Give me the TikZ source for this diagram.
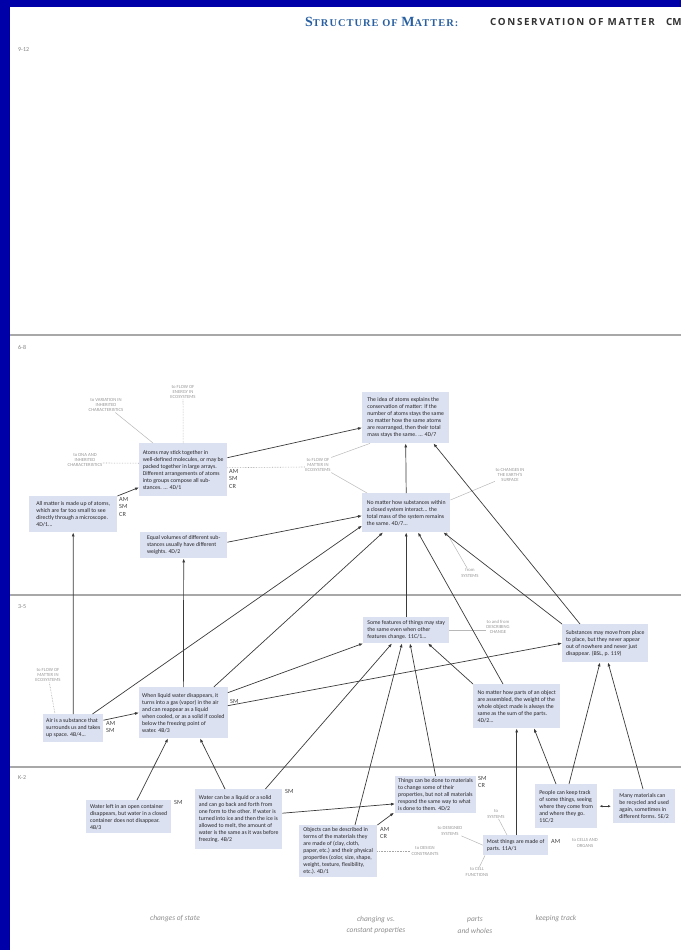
\documentclass[tikz,border=0pt]{standalone}
\usepackage{fontspec}
\setmainfont{Carlito}
\newfontfamily\headserif{Liberation Serif}
\newfontfamily\headsans{Open Sans}
\usetikzlibrary{arrows.meta,calc}

\definecolor{frameblue}{RGB}{0,0,168}
\definecolor{boxfill}{RGB}{220,225,242}
\definecolor{linkgrey}{RGB}{58,58,58}
\definecolor{notegrey}{RGB}{150,150,150}
\definecolor{rulegrey}{RGB}{168,168,168}
\definecolor{titleblue}{RGB}{40,95,160}
\definecolor{titlegrey}{RGB}{50,50,50}

\tikzset{
  bench/.style={fill=boxfill, draw=none, anchor=north west, align=left,
    inner xsep=3pt, inner ysep=2.5pt, font=\fontsize{5.8}{7}\selectfont, text=black!85},
  codes/.style={anchor=north west, align=left, inner sep=0pt,
    font=\fontsize{6.3}{7.4}\selectfont, text=black!75},
  note/.style={align=center, inner sep=0.5pt, font=\fontsize{4.7}{5.3}\selectfont, text=notegrey},
  link/.style={draw=linkgrey, line width=0.7pt, -{Latex[length=4pt,width=3pt]}},
  notelink/.style={draw=black!28, line width=0.5pt},
  dotlink/.style={draw=black!35, line width=0.6pt, densely dotted},
  grade/.style={anchor=west, inner sep=0pt, font=\fontsize{6}{7}\selectfont, text=black!50},
  strand/.style={align=center, inner sep=0pt, font=\itshape\fontsize{7.5}{11.5}\selectfont, text=black!45},
  divider/.style={draw=rulegrey, line width=1.3pt},
}

\begin{document}
\begin{tikzpicture}[x=1pt,y=-1pt]
\useasboundingbox (0,0) rectangle (681,950);
\clip (0,0) rectangle (681,950);

% page frame
\fill[frameblue] (0,0) rectangle (681,7);
\fill[frameblue] (0,0) rectangle (10,950);

% heading
\node[anchor=base west, inner sep=0pt, text=titleblue, font=\headserif\bfseries\addfontfeatures{LetterSpace=10}] (title) at (305,27)
  {\fontsize{14}{14}\selectfont S\fontsize{10.4}{11}\selectfont TRUCTURE OF \fontsize{14}{14}\selectfont M\fontsize{10.4}{11}\selectfont ATTER:};
\node[anchor=base west, inner sep=0pt, text=titlegrey, font=\headsans\bfseries\fontsize{9.8}{10}\selectfont\addfontfeatures{LetterSpace=17}] (topic) at (490,26) {CONSERVATION OF MATTER};
\node[anchor=base west, inner sep=0pt, text=titlegrey, font=\headsans\bfseries\fontsize{9.8}{10}\selectfont] (topiccode) at (666,26) {CM};

% grade bands
\draw[divider] (10,335) -- (681,335);
\draw[divider] (10,595) -- (681,595);
\draw[divider] (10,767) -- (681,767);
\node[grade] (g912) at (18,50) {9-12};
\node[grade] (g68) at (18,347) {6-8};
\node[grade] (g35) at (18,607) {3-5};
\node[grade] (gK2) at (18,778) {K-2};

% ---------- grades 6-8 ----------
\node[bench, minimum width=87pt, minimum height=51pt] (idea) at (362,392)
  {The idea of atoms explains the\\conservation of matter: If the\\number of atoms stays the same\\no matter how the same atoms\\are rearranged, then their total\\mass stays the same. ... 4D/7};
\node[bench, minimum width=88pt, minimum height=39pt] (subs) at (362,493)
  {No matter how substances within\\a closed system interact... the\\total mass of the system remains\\the same. 4D/7...};
\node[bench, minimum width=88pt, minimum height=53pt] (atoms) at (139,443)
  {Atoms may stick together in\\well-defined molecules, or may be\\packed together in large arrays.\\Different arrangements of atoms\\into groups compose all sub-\\stances. ... 4D/1};
\node[codes] (cAtoms) at (229,469) {AM\\SM\\CR};
\node[bench, minimum width=88pt, minimum height=36pt] (allm) at (29,496)
  {All matter is made up of atoms,\\which are far too small to see\\directly through a microscope.\\4D/1...};
\node[codes] (cAllm) at (119,497) {AM\\SM\\CR};
\node[bench, minimum width=87pt, minimum height=26pt] (equal) at (140,532)
  {Equal volumes of different sub-\\stances usually have different\\weights. 4D/2};

% ---------- grades 3-5 ----------
\node[bench, minimum width=86pt, minimum height=26pt] (some) at (363,617)
  {Some features of things may stay\\the same even when other\\features change. 11C/1...};
\node[bench, minimum width=86pt, minimum height=38pt] (move) at (562,624)
  {Substances may move from place\\to place, but they never appear\\out of nowhere and never just\\disappear. (BSL, p. 119)};
\node[bench, minimum width=87pt, minimum height=44pt] (parts) at (473,684)
  {No matter how parts of an object\\are assembled, the weight of the\\whole object made is always the\\same as the sum of the parts.\\4D/2...};
\node[bench, minimum width=88pt, minimum height=51pt] (liquid) at (139,687)
  {When liquid water disappears, it\\turns into a gas (vapor) in the air\\and can reappear as a liquid\\when cooled, or as a solid if cooled\\below the freezing point of\\water. 4B/3};
\node[codes] (cLiquid) at (230,699) {SM};
\node[bench, minimum width=60pt, minimum height=28pt] (air) at (43,714)
  {Air is a substance that\\surrounds us and takes\\up space. 4B/4...};
\node[codes] (cAir) at (106,721) {AM\\SM};

% ---------- grades K-2 ----------
\node[bench, minimum width=85pt, minimum height=33pt] (left) at (86,800)
  {Water left in an open container\\disappears, but water in a closed\\container does not disappear.\\4B/3};
\node[codes] (cLeft) at (174,800) {SM};
\node[bench, minimum width=87pt, minimum height=60pt] (wcb) at (195,789)
  {Water can be a liquid or a solid\\and can go back and forth from\\one form to the other. If water is\\turned into ice and then the ice is\\allowed to melt, the amount of\\water is the same as it was before\\freezing. 4B/2};
\node[codes] (cWcb) at (285,789) {SM};
\node[bench, minimum width=80pt, minimum height=35pt] (things) at (395,776)
  {Things can be done to materials\\to change some of their\\properties, but not all materials\\respond the same way to what\\is done to them. 4D/2};
\node[codes] (cThings) at (478,776) {SM\\CR};
\node[bench, minimum width=78pt, minimum height=50pt] (objects) at (299,825)
  {Objects can be described in\\terms of the materials they\\are made of (clay, cloth,\\paper, etc.) and their physical\\properties (color, size, shape,\\weight, texture, flexibility,\\etc.). 4D/1};
\node[codes] (cObjects) at (380,827) {AM\\CR};
\node[bench, minimum width=65pt, minimum height=20pt] (most) at (483,835)
  {Most things are made of\\parts. 11A/1};
\node[codes] (cMost) at (551,839) {AM};
\node[bench, minimum width=62pt, minimum height=44pt] (people) at (535,784)
  {People can keep track\\of some things, seeing\\where they come from\\and where they go.\\11C/2};
\node[bench, minimum width=62pt, minimum height=34pt] (many) at (613,789)
  {Many materials can\\be recycled and used\\again, sometimes in\\different forms. 5E/2};

% ---------- links to other maps ----------
\node[note] (nVar) at (106,405) {to VARIATION IN\\INHERITED\\CHARACTERISTICS};
\node[note] (nEnergy) at (183,392) {to FLOW OF\\ENERGY IN\\ECOSYSTEMS};
\node[note] (nDNA) at (85,460) {to DNA AND\\INHERITED\\CHARACTERISTICS};
\node[note] (nMatter) at (318,465) {to FLOW OF\\MATTER IN\\ECOSYSTEMS};
\node[note] (nEarth) at (510,475) {to CHANGES IN\\THE EARTH'S\\SURFACE};
\node[note] (nSys1) at (470,573) {from\\SYSTEMS};
\node[note] (nDesc) at (498,627) {to and from\\DESCRIBING\\CHANGE};
\node[note] (nMatter2) at (48,675) {to FLOW OF\\MATTER IN\\ECOSYSTEMS};
\node[note] (nDesigned) at (450,831) {to DESIGNED\\SYSTEMS};
\node[note] (nSys2) at (496,814) {to\\SYSTEMS};
\node[note] (nConstr) at (425,851) {to DESIGN\\CONSTRAINTS};
\node[note] (nCell) at (477,872) {to CELL\\FUNCTIONS};
\node[note] (nOrgans) at (585,843) {to CELLS AND\\ORGANS};

\draw[notelink] (nVar) -- ([xshift=14pt]atoms.north west);
\draw[dotlink] (nEnergy) -- (atoms.north);
\draw[dotlink] ([yshift=-3pt]nDNA.east) -- ([yshift=6.5pt]atoms.west);
\draw[dotlink] ([yshift=2pt]atoms.east) -- ([yshift=-2pt]nMatter.west);
\draw[notelink] (nMatter.north east) -- ([xshift=8pt]idea.south west);
\draw[notelink] (nMatter.south east) -- ([xshift=5pt]subs.north west);
\draw[notelink] (nEarth) -- ([yshift=-7pt]subs.north east);
\draw[notelink] ([xshift=-4pt]subs.south east) -- (nSys1);
\draw[notelink] (some.east) -- (some.east -| nDesc.west);
\draw[dotlink] (nMatter2) -- ([xshift=12pt]air.north west);
\draw[notelink] (nDesigned) -- (most.west);
\draw[notelink] (nSys2) -- ([xshift=24pt]most.north west);
\draw[dotlink] (objects.east) -- (objects.east -| nConstr.west);
\draw[notelink] (nCell) -- ([xshift=2pt]most.south west);

% ---------- conceptual links ----------
\draw[link] (allm.north east) -- ([yshift=9pt]atoms.south west);
\draw[link] ([yshift=12pt]atoms.east) -- ([yshift=-10pt]idea.west);
\draw[link] (subs.north) -- (idea.south);
\draw[link] ([xshift=18pt]move.north west) -- ([xshift=-16pt]idea.south east);
\draw[link] (move.north west) -- ([xshift=-7pt]subs.south east);
\draw[link] ([yshift=3pt]equal.east) -- ([yshift=-3pt]subs.west);
\draw[link] ([xshift=-11pt]air.north east) -- ([yshift=-13pt]subs.west);
\draw[link] ([xshift=-14pt]liquid.north east) -- ([xshift=21pt]subs.south west);
\draw[link] (some.north) -- (subs.south);
\draw[link] ([xshift=30pt]parts.north west) -- ([xshift=56pt]subs.south west);

\draw[link] (air.north) -- (allm.south);
\draw[link] ([yshift=8pt]air.east) -- (liquid.west);
\draw[link] (liquid.north) -- (equal.south);
\draw[link] ([yshift=20pt]liquid.east) -- (some.south west);
\draw[link] ([yshift=7pt]liquid.east) -- (move.west);
\draw[link] (parts.north west) -- ([xshift=65pt]some.south west);

\draw[link] ([xshift=-17pt]wcb.north east) -- ([xshift=29pt]some.south west);
\draw[link] ([xshift=56pt]objects.north west) -- ([xshift=39pt]some.south west);
\draw[link] (things.north) -- ([xshift=47pt]some.south west);
\draw[link] ([xshift=51pt]left.north west) -- ([xshift=29pt]liquid.south west);
\draw[link] ([xshift=30pt]wcb.north west) -- ([xshift=61pt]liquid.south west);
\draw[link] ([yshift=6pt]wcb.east) -- ([yshift=-9pt]things.west);
\draw[link] (objects.north east) -- ([xshift=-1pt,yshift=1pt]things.south west);
\draw[link] (parts.south |- most.north) -- (parts.south);
\draw[link] ([xshift=21pt]people.north west) -- ([xshift=61pt]parts.south west);
\draw[link] ([xshift=34pt]people.north west) -- ([xshift=38pt]move.south west);
\draw[link] ([xshift=30pt]many.north west) -- ([xshift=46pt]move.south west);
\draw[link, {Latex[length=3pt,width=2.5pt]}-{Latex[length=3pt,width=2.5pt]}] ([xshift=2pt]people.east) -- ([xshift=-2pt]many.west);

% ---------- strands ----------
\node[strand] (sState) at (175,919) {changes of state};
\node[strand] (sConst) at (376,925) {changing vs.\\constant properties};
\node[strand] (sParts) at (475,925) {parts\\and wholes};
\node[strand] (sTrack) at (556,919) {keeping track};
\end{tikzpicture}
\end{document}
